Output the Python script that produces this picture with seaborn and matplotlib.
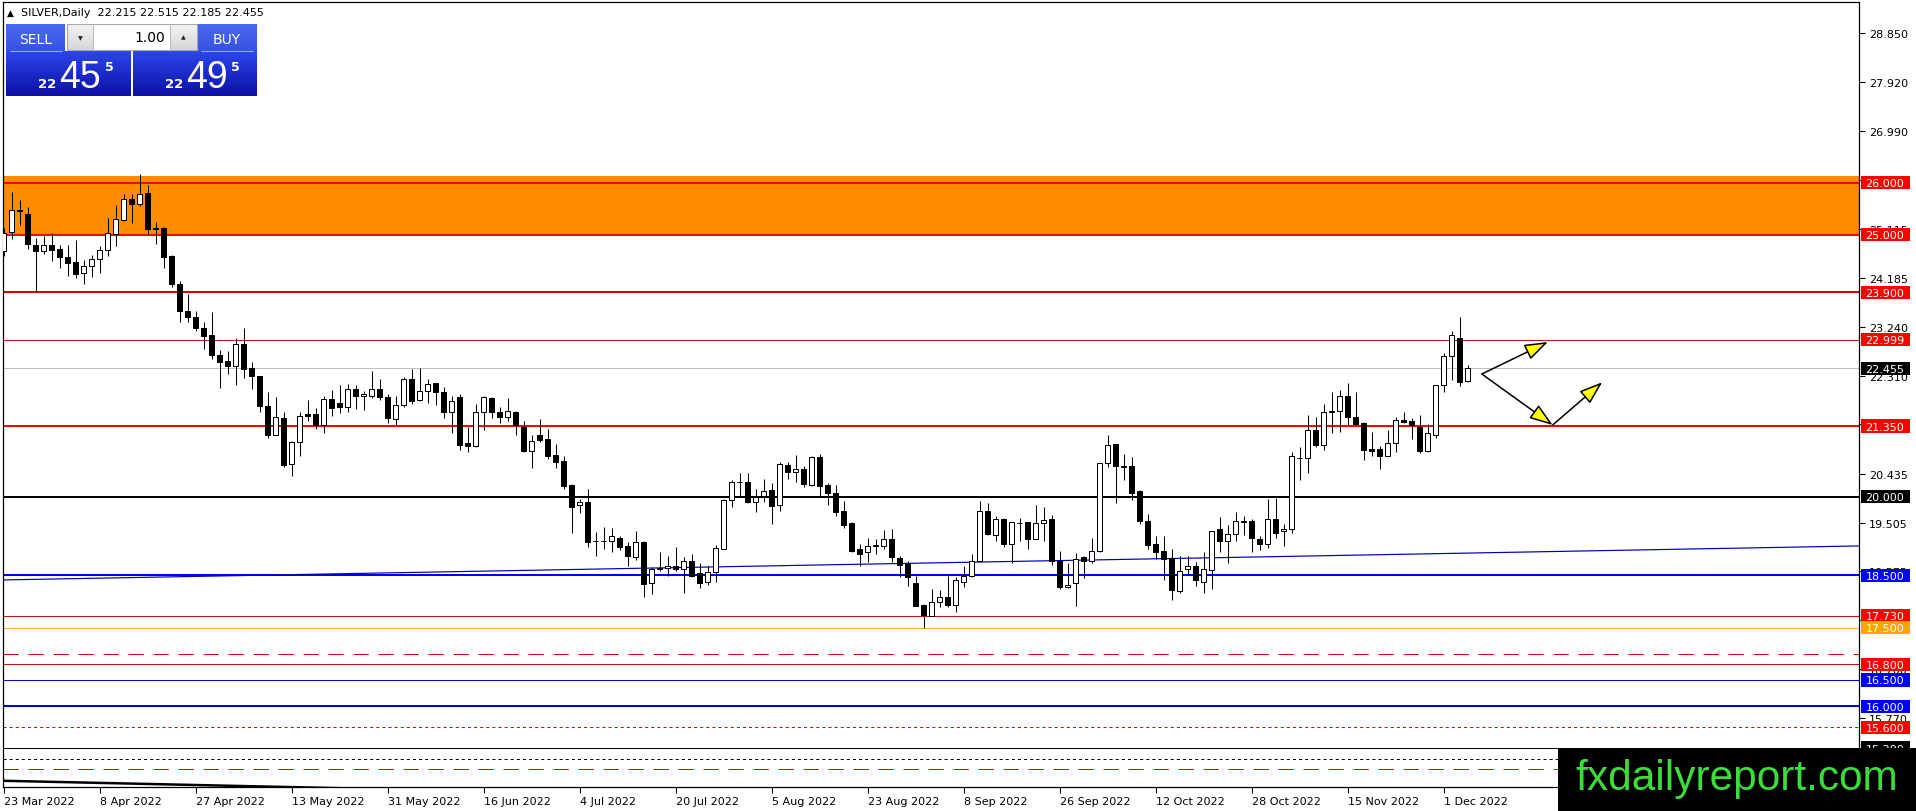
import numpy as np
import pandas as pd
import seaborn as sns
import matplotlib
matplotlib.use('Agg')
import matplotlib.pyplot as plt
import matplotlib.transforms as mtransforms
from matplotlib.patches import Rectangle
from matplotlib.colors import LinearSegmentedColormap

# daily bars, Good Friday has no bar
dates = pd.bdate_range('2022-03-23', '2022-12-06').drop(pd.Timestamp('2022-04-15'))

opens = [24.70, 25.05, 25.47, 25.40, 24.81, 24.70, 24.81, 24.73, 24.58, 24.49,
         24.27, 24.40, 24.53, 24.72, 25.02, 25.29, 25.69, 25.59, 25.80, 25.14,
         25.14, 24.60, 24.06, 23.54, 23.44, 23.23, 23.09, 22.71, 22.59, 22.50,
         22.92, 22.46, 22.31, 21.73, 21.18, 21.50, 20.62, 21.04, 21.58, 21.58,
         21.36, 21.87, 21.79, 21.72, 22.06, 21.92, 21.93, 22.06, 21.90, 21.48,
         21.75, 22.25, 21.85, 22.01, 22.17, 21.99, 21.62, 21.90, 21.02, 20.97,
         21.61, 21.89, 21.61, 21.52, 21.62, 21.34, 20.88, 21.17, 21.10, 20.80,
         20.69, 20.22, 19.84, 19.90, 19.16, 19.15, 19.16, 19.22, 19.05, 18.84,
         19.14, 18.35, 18.62, 18.63, 18.68, 18.61, 18.78, 18.54, 18.38, 18.56,
         19.01, 19.94, 20.29, 20.29, 19.90, 20.01, 20.13, 19.84, 20.61, 20.47,
         20.53, 20.23, 20.75, 20.22, 20.08, 19.72, 19.50, 19.00, 18.94, 19.06,
         19.05, 19.19, 18.83, 18.73, 18.36, 17.93, 17.73, 17.98, 18.08, 17.94,
         18.38, 18.48, 18.78, 19.73, 19.26, 19.57, 19.10, 19.49, 19.51, 19.19,
         19.49, 19.57, 18.78, 18.28, 18.35, 18.84, 18.78, 18.96, 20.64, 21.00,
         20.58, 20.58, 20.10, 19.54, 19.10, 18.96, 18.82, 18.19, 18.61, 18.67,
         18.38, 18.60, 19.38, 19.16, 19.29, 19.52, 19.53, 19.19, 19.09, 19.57,
         19.35, 19.39, 20.74, 20.73, 21.28, 20.99, 21.61, 21.63, 21.92, 21.52,
         21.40, 20.91, 20.91, 20.78, 21.03, 21.47, 21.44, 21.34, 20.88, 21.18,
         22.14, 22.68, 23.04, 22.215]

highs = [25.14, 25.81, 25.67, 25.53, 24.95, 24.97, 25.04, 24.81, 24.81, 24.90,
         24.52, 24.62, 24.78, 25.33, 25.57, 25.78, 25.78, 26.17, 25.96, 25.24,
         25.15, 24.62, 24.11, 23.88, 23.55, 23.34, 23.53, 22.81, 22.79, 23.04,
         23.22, 22.58, 22.31, 21.99, 21.90, 21.62, 21.07, 21.62, 21.85, 21.69,
         21.93, 22.04, 22.13, 22.15, 22.13, 22.01, 22.41, 22.25, 21.96, 21.92,
         22.29, 22.44, 22.45, 22.24, 22.17, 22.09, 21.93, 21.96, 21.33, 21.77,
         21.93, 21.91, 21.71, 21.89, 21.64, 21.45, 21.18, 21.48, 21.29, 21.01,
         20.77, 20.24, 19.96, 20.15, 19.33, 19.43, 19.40, 19.24, 19.14, 19.35,
         19.16, 18.65, 18.95, 18.86, 19.03, 18.84, 18.91, 18.73, 18.67, 19.07,
         19.96, 20.31, 20.45, 20.45, 20.15, 20.33, 20.26, 20.67, 20.67, 20.80,
         20.58, 20.78, 20.82, 20.27, 20.22, 19.91, 19.51, 19.10, 19.22, 19.19,
         19.37, 19.38, 18.86, 18.78, 18.48, 17.95, 18.24, 18.21, 18.48, 18.46,
         18.67, 18.91, 19.92, 19.88, 19.64, 19.59, 19.51, 19.59, 19.52, 19.84,
         19.80, 19.65, 18.97, 18.73, 18.92, 18.86, 19.22, 20.64, 21.18, 21.01,
         20.82, 20.75, 20.12, 19.67, 19.24, 19.24, 19.00, 18.87, 18.86, 18.75,
         18.95, 19.34, 19.61, 19.45, 19.70, 19.63, 19.57, 19.24, 19.96, 19.97,
         19.48, 20.85, 20.94, 21.56, 21.53, 21.77, 21.99, 22.04, 22.18, 21.99,
         21.42, 21.23, 20.96, 21.28, 21.52, 21.62, 21.50, 21.56, 21.39, 22.14,
         22.74, 23.17, 23.44, 22.515]

lows = [24.60, 24.92, 25.18, 24.73, 23.90, 24.63, 24.51, 24.36, 24.22, 24.17,
        24.06, 24.19, 24.28, 24.59, 24.79, 25.27, 25.23, 25.55, 25.02, 24.83,
        24.36, 24.00, 23.34, 23.34, 23.17, 22.83, 22.63, 22.07, 22.34, 22.13,
        22.26, 22.06, 21.62, 21.13, 21.17, 20.56, 20.39, 20.78, 21.45, 21.29,
        21.22, 21.55, 21.60, 21.61, 21.67, 21.66, 21.88, 21.85, 21.41, 21.37,
        21.71, 21.77, 21.83, 21.79, 21.75, 21.50, 21.22, 20.90, 20.85, 20.94,
        21.28, 21.50, 21.41, 21.44, 21.17, 20.86, 20.55, 21.04, 20.72, 20.54,
        20.15, 19.31, 19.69, 19.03, 18.86, 19.01, 18.95, 18.99, 18.68, 18.80,
        18.08, 18.14, 18.59, 18.49, 18.59, 18.16, 18.46, 18.25, 18.31, 18.38,
        19.00, 19.80, 20.01, 19.88, 19.71, 19.90, 19.48, 19.73, 20.34, 20.29,
        20.18, 20.21, 20.01, 19.84, 19.64, 19.41, 18.94, 18.67, 18.75, 18.91,
        19.00, 18.76, 18.46, 18.30, 17.91, 17.49, 17.73, 17.89, 17.89, 17.79,
        18.27, 18.46, 18.78, 19.27, 19.16, 19.03, 18.73, 19.16, 19.00, 19.19,
        19.16, 18.70, 18.24, 18.25, 17.92, 18.44, 18.73, 18.94, 20.56, 19.88,
        20.31, 19.94, 19.47, 19.00, 18.81, 18.40, 18.03, 18.16, 18.50, 18.30,
        18.17, 18.24, 18.95, 18.73, 19.16, 19.26, 18.94, 18.98, 19.02, 19.22,
        19.06, 19.30, 20.32, 20.45, 20.94, 20.90, 21.22, 21.24, 21.37, 21.37,
        20.71, 20.78, 20.53, 20.77, 20.86, 21.41, 21.10, 20.83, 20.85, 21.13,
        21.99, 22.22, 22.11, 22.185]

closes = [25.04, 25.47, 25.45, 24.83, 24.70, 24.81, 24.72, 24.57, 24.47, 24.25,
          24.41, 24.54, 24.71, 25.04, 25.30, 25.69, 25.59, 25.79, 25.12, 25.12,
          24.58, 24.06, 23.55, 23.44, 23.22, 23.07, 22.71, 22.58, 22.50, 22.92,
          22.44, 22.30, 21.73, 21.17, 21.52, 20.61, 21.05, 21.55, 21.55, 21.36,
          21.87, 21.70, 21.72, 22.06, 21.92, 21.96, 22.06, 21.90, 21.50, 21.76,
          22.25, 21.83, 22.01, 22.16, 21.99, 21.62, 21.82, 20.99, 20.97, 21.61,
          21.90, 21.61, 21.52, 21.63, 21.36, 20.88, 21.07, 21.09, 20.78, 20.67,
          20.21, 19.81, 19.90, 19.14, 19.15, 19.16, 19.24, 19.03, 18.86, 19.14,
          18.33, 18.62, 18.63, 18.68, 18.61, 18.78, 18.48, 18.35, 18.56, 19.02,
          19.94, 20.29, 20.28, 19.90, 19.99, 20.10, 19.83, 20.62, 20.47, 20.53,
          20.24, 20.75, 20.21, 20.07, 19.71, 19.46, 18.97, 18.91, 19.05, 19.07,
          19.19, 18.84, 18.70, 18.46, 17.92, 17.74, 17.98, 18.08, 17.93, 18.40,
          18.48, 18.78, 19.73, 19.29, 19.57, 19.10, 19.51, 19.50, 19.19, 19.50,
          19.56, 18.78, 18.27, 18.32, 18.81, 18.77, 18.97, 20.64, 20.99, 20.58,
          20.57, 20.07, 19.54, 19.08, 18.95, 18.81, 18.21, 18.59, 18.67, 18.40,
          18.61, 19.34, 19.16, 19.29, 19.53, 19.53, 19.21, 19.09, 19.57, 19.30,
          19.39, 20.78, 20.73, 21.28, 20.99, 21.61, 21.64, 21.92, 21.52, 21.39,
          20.90, 20.88, 20.78, 21.03, 21.47, 21.43, 21.37, 20.88, 21.21, 22.14,
          22.69, 23.09, 22.20, 22.455]

# horizontal levels: value, colour, width(px), style, label box colour
levels = [
    (26.000, '#FF0000', 2, '-', '#FF0000'),
    (25.000, '#FF0000', 2, '-', '#FF0000'),
    (23.900, '#E00000', 2, '-', '#FF0000'),
    (22.999, '#D01010', 1, '-', '#FF0000'),
    (22.455, '#C0C0C0', 1, '-', '#000000'),
    (21.350, '#FF0000', 2, '-', '#FF0000'),
    (20.000, '#000000', 2, '-', '#000000'),
    (18.500, '#0000FF', 2, '-', '#0000FF'),
    (17.730, '#D01010', 1, '-', '#FF0000'),
    (17.500, '#F0B040', 1, '-', '#FFA500'),
    (17.000, '#E00000', 1, 'dash', None),
    (16.800, '#D01010', 1, '-', '#FF0000'),
    (16.500, '#0000E0', 1, '-', '#0000FF'),
    (16.000, '#0000E0', 2, '-', '#0000FF'),
    (15.600, '#E00000', 1, 'dot', '#FF0000'),
    (15.200, '#000000', 1, '-', '#000000'),
    (15.000, '#000000', 1, 'dot', None),
    (14.800, '#E00000', 1, 'dash', None),
]
zone_low, zone_high = 25.0, 26.12

ytick_vals = [28.850, 27.920, 26.990, 26.045, 25.115, 24.185, 23.240, 22.310,
              21.380, 20.435, 19.505, 18.575, 17.645, 16.700, 15.770]
# these scale values sit fully behind a price box in the reference
ytick_hidden = [21.380, 17.645]

# trend lines (bar index, price)
blue_trend_x = [-0.2, 231.9]
blue_trend_y = [18.41, 19.06]
black_trend_x = [-0.5, 37.0, 45.0]
black_trend_y = [14.576, 14.450, 14.423]

# hand drawn arrows (bar index, price)
arrows = [((184.75, 22.343), (193.0, 22.954)),
          ((184.75, 22.343), (193.6, 21.369)),
          ((193.6, 21.369), (199.8, 22.185))]

header = 'SILVER,Daily  22.215 22.515 22.185 22.455'

sns.set_style('white')
plt.rcParams['font.family'] = ['DejaVu Sans']
plt.rcParams['lines.scale_dashes'] = False

W, H = 1916, 812
fig = plt.figure(figsize=(W / 100, H / 100), dpi=100)
fig.patch.set_facecolor('white')
L, R, T, B = 2.7, 1859.0, 2.7, 788.3
ax = fig.add_axes([L / W, 1 - B / H, (R - L) / W, (B - T) / H])
ax.set_facecolor('white')

n = min(len(opens), len(highs), len(lows), len(closes))
df = pd.DataFrame({'date': dates[:n], 'open': opens[:n], 'high': highs[:n],
                   'low': lows[:n], 'close': closes[:n]})
df['i'] = np.arange(n)
df['up'] = df['close'] >= df['open']

ax.axhspan(zone_low, zone_high, color='#FF8C00', lw=0, zorder=1)

px = 0.72
styles = {'-': '-', 'dash': (0, (11, 7)), 'dot': (0, (2.2, 2.2))}
for val, col, w, ls, box in levels:
    ax.axhline(val, color=col, lw=w * px, ls=styles[ls], zorder=2)

sns.lineplot(x=blue_trend_x, y=blue_trend_y, ax=ax, color='#0000B0', lw=1.2 * px,
             legend=False, zorder=2)
sns.lineplot(x=black_trend_x, y=black_trend_y, ax=ax, color='black', lw=2.5 * px,
             legend=False, zorder=2)

# candles
ax.vlines(df['i'], df['low'], df['high'], color='black', lw=1.0 * px, zorder=3)
body_lo = np.minimum(df['open'], df['close'])
body_h = (df['close'] - df['open']).abs()
ax.bar(df['i'], body_h, bottom=body_lo, width=0.62,
       color=np.where(df['up'], 'white', 'black'), edgecolor='black',
       linewidth=1.0 * px, zorder=4)

for start, tip in arrows:
    ax.annotate('', xy=tip, xytext=start, zorder=6,
                arrowprops=dict(arrowstyle='-|>,head_length=0.8,head_width=0.28',
                                facecolor='#FFFF00', edgecolor='black', lw=1.1,
                                mutation_scale=18, shrinkA=0, shrinkB=0))

ax.set_xlim(-0.16, 231.9)
ax.set_ylim(14.45, 29.4535)

# axes
ax.yaxis.tick_right()
ax.set_yticks(ytick_vals)
ax.set_yticklabels(['' if v in ytick_hidden else f'{v:.3f}' for v in ytick_vals])
ax.tick_params(axis='y', right=True, left=False, labelright=True, labelleft=False,
               direction='out', length=4, width=0.75, pad=3, labelsize=8, colors='black')
xt = df['i'][::12]
ax.set_xticks(xt)
ax.set_xticklabels([f"{d.day} {d.strftime('%b %Y')}" for d in df['date'][::12]])
ax.tick_params(axis='x', bottom=True, direction='out', length=4, width=0.75, pad=2,
               labelsize=8, colors='black')
for lbl in ax.get_xticklabels():
    lbl.set_horizontalalignment('left')
for sp in ax.spines.values():
    sp.set_color('black')
    sp.set_linewidth(0.9)
ax.set_xlabel('')
ax.set_ylabel('')

# price label boxes on the right scale
trans = mtransforms.blended_transform_factory(ax.transAxes, ax.transData)
bx0 = (1861 - L) / (R - L)
bw = 49 / (R - L)
tx = (1865.5 - L) / (R - L)
for val, col, w, ls, box in levels:
    if box is None:
        continue
    ax.add_patch(Rectangle((bx0, val - 0.125), bw, 0.25, transform=trans,
                           facecolor=box, edgecolor='none', clip_on=False, zorder=10))
    ax.text(tx, val - 0.01, f'{val:.3f}', transform=trans, color='white', fontsize=8,
            ha='left', va='center', clip_on=False, zorder=11)

# overlay in pixel coordinates: header, trade panel, watermark
ov = fig.add_axes([0, 0, 1, 1])
ov.set_zorder(20)
ov.patch.set_alpha(0)
ov.axis('off')


def grad_rect(x0, y0, x1, y1, c_top, c_bot):
    cmap = LinearSegmentedColormap.from_list('g', [c_top, c_bot])
    ov.imshow(np.linspace(0, 1, 64).reshape(-1, 1), extent=(x0, x1, y1, y0),
              cmap=cmap, aspect='auto', interpolation='bilinear', zorder=2)


ov.text(7, 13.5, '\u25b2', fontsize=6.5, ha='left', va='center', color='black')
ov.text(21.5, 13, header, fontsize=8, ha='left', va='center', color='black')

# sell / buy panels
grad_rect(6, 25, 65, 52, '#4B6AF2', '#3553E0')
grad_rect(6, 52, 131, 97, '#2C46EA', '#0B10A6')
grad_rect(197, 25, 257, 52, '#4B6AF2', '#3553E0')
grad_rect(133, 52, 257, 97, '#2C46EA', '#0B10A6')
ov.plot([10, 62], [51.5, 51.5], color='#8FA6FF', lw=0.8, zorder=3)
ov.plot([201, 253], [51.5, 51.5], color='#8FA6FF', lw=0.8, zorder=3)

# lot size control
grad_rect(67, 25, 93, 51, '#F4F4F4', '#D6D6D6')
grad_rect(170, 25, 197, 51, '#F4F4F4', '#D6D6D6')
ov.add_patch(Rectangle((93, 25), 77, 26, facecolor='white', edgecolor='none', zorder=2))
ov.add_patch(Rectangle((67, 25), 130, 26, facecolor='none', edgecolor='#A8A8A8',
                       lw=0.8, zorder=3))
ov.plot([93, 93], [25, 51], color='#B8B8B8', lw=0.7, zorder=3)
ov.plot([170, 170], [25, 51], color='#B8B8B8', lw=0.7, zorder=3)
ov.text(80, 38.5, '\u25bc', fontsize=4.5, ha='center', va='center', color='#202020', zorder=4)
ov.text(183.5, 37.5, '\u25b2', fontsize=4.5, ha='center', va='center', color='#202020', zorder=4)
ov.text(165, 38, '1.00', fontsize=10, ha='right', va='center', color='black', zorder=4)

ov.text(35.5, 39.5, 'SELL', fontsize=10, ha='center', va='center', color='white', zorder=4)
ov.text(226.5, 39.5, 'BUY', fontsize=10, ha='center', va='center', color='white', zorder=4)

for x_small, x_big, x_sup, big in [(38.5, 59, 105.5, '45'), (165.5, 186, 231.5, '49')]:
    ov.text(x_small, 87.5, '22', fontsize=9.5, weight='bold', ha='left', va='baseline',
            color='white', zorder=4)
    ov.text(x_big, 88, big, fontsize=27, ha='left', va='baseline', color='white',
            family='Liberation Sans', zorder=4)
    ov.text(x_sup, 71, '5', fontsize=9, weight='bold', ha='left', va='baseline',
            color='white', zorder=4)

# watermark
ov.add_patch(Rectangle((1558, 749), W - 1558, H - 749, facecolor='black',
                       edgecolor='none', zorder=5))
ov.text(1737, 790, 'fxdailyreport.com', fontsize=30.5, color='#3CDC3C',
        family='Liberation Sans', ha='center', va='baseline', zorder=6)

ov.set_xlim(0, W)
ov.set_ylim(H, 0)

fig.savefig('out.png', dpi=100, facecolor='white')
